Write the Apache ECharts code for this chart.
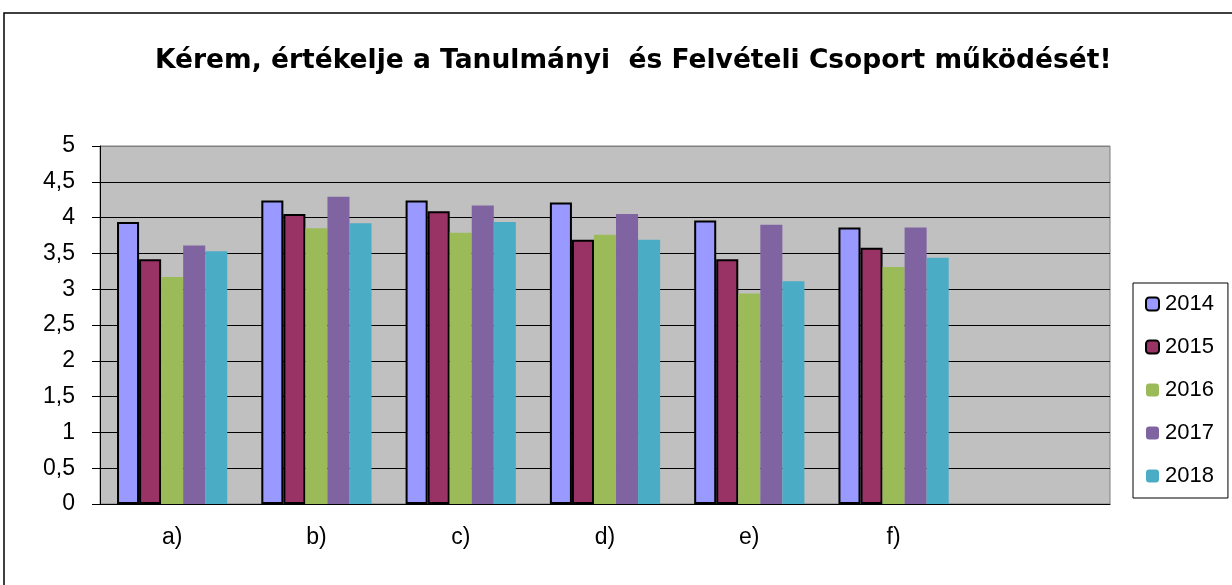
<!DOCTYPE html>
<html>
<head>
<meta charset="utf-8">
<script src="https://cdn.jsdelivr.net/npm/echarts@6/dist/echarts.min.js"></script>
<style>
  html, body { margin: 0; padding: 0; background: #fff; }
  #main { width: 1232px; height: 585px; }
</style>
</head>
<body>
<div id="main"></div>
<script>
var categories = ['a)', 'b)', 'c)', 'd)', 'e)', 'f)', ''];
var years = ['2014', '2015', '2016', '2017', '2018'];
var v2014 = [3.94, 4.24, 4.24, 4.21, 3.96, 3.86];
var v2015 = [3.42, 4.05, 4.09, 3.69, 3.42, 3.58];
var v2016 = [3.17, 3.85, 3.79, 3.76, 2.94, 3.31];
var v2017 = [3.61, 4.29, 4.17, 4.05, 3.90, 3.86];
var v2018 = [3.53, 3.92, 3.94, 3.69, 3.11, 3.44];

var values = [v2014, v2015, v2016, v2017, v2018];
var colors = ['#9999FF', '#993366', '#9BBB59', '#8064A2', '#4BACC6'];
var outlined = [true, true, false, false, false];

var myChart = echarts.init(document.getElementById('main'));

var series = [];
for (var i = 0; i < years.length; i++) {
    series.push({
        name: years[i],
        type: 'bar',
        data: values[i],
        barGap: '0%',
        barCategoryGap: '23.6%',
        itemStyle: {
            color: colors[i],
            borderColor: '#000',
            borderWidth: outlined[i] ? 2 : 0
        }
    });
}

// gridlines black, the top one (at 5) grey like the plot border
var splitColors = [];
for (var k = 0; k < 10; k++) splitColors.push('#000');
splitColors.push('#808080');

var option = {
    animation: false,
    textStyle: { fontFamily: 'Liberation Sans, Arial, sans-serif' },
    graphic: [{
        type: 'rect',
        shape: { x: 4, y: 13, width: 1240, height: 590 },
        style: { fill: 'none', stroke: '#000', lineWidth: 1.5 },
        silent: true
    }],
    title: {
        text: 'Kérem, értékelje a Tanulmányi  és Felvételi Csoport működését!',
        left: 150,
        top: 43,
        textStyle: { fontFamily: 'DejaVu Sans', fontSize: 26.5, fontWeight: 'bold', color: '#000' }
    },
    legend: {
        orient: 'vertical',
        left: 1133,
        top: 283,
        itemWidth: 13,
        itemHeight: 13,
        itemGap: 21,
        padding: [10, 14, 11, 12],
        borderColor: '#000',
        borderWidth: 1,
        textStyle: { fontSize: 22, lineHeight: 22, color: '#000', padding: [0, 0, 0, 1] },
        data: years
    },
    grid: {
        left: 100,
        right: 122,
        top: 146,
        bottom: 81,
        show: true,
        backgroundColor: '#C0C0C0',
        borderColor: '#808080',
        borderWidth: 1
    },
    xAxis: {
        type: 'category',
        data: categories,
        axisLine: { lineStyle: { color: '#000', width: 1 } },
        axisTick: { length: 7, lineStyle: { color: '#000' } },
        axisLabel: { fontSize: 23, color: '#000', margin: 22 }
    },
    yAxis: {
        type: 'value',
        min: 0,
        max: 5,
        interval: 0.5,
        axisLine: { show: true, lineStyle: { color: '#000', width: 1 } },
        axisTick: { show: true, length: 8, lineStyle: { color: '#000' } },
        splitLine: { lineStyle: { color: splitColors, width: 1 } },
        axisLabel: {
            fontSize: 23,
            color: '#000',
            margin: 25,
            formatter: function (v) { return String(v).replace('.', ','); }
        }
    },
    series: series
};

myChart.setOption(option);
</script>
</body>
</html>
